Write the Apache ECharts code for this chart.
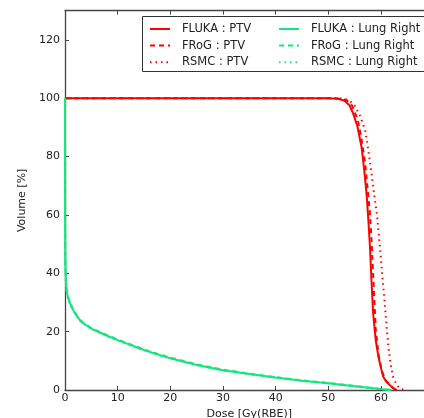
<!DOCTYPE html>
<html><head><meta charset="utf-8">
<script src="https://cdn.jsdelivr.net/npm/echarts@6/dist/echarts.min.js"></script>
<style>html,body{margin:0;padding:0;background:#fff}#c{width:424px;height:418px}</style>
</head><body><div id="c"></div>
<script>
var xTicks = [0, 10, 20, 30, 40, 50, 60, 70];
var yTicks = [0, 20, 40, 60, 80, 100, 120];
var seriesNames = ['FLUKA : PTV', 'FRoG : PTV', 'RSMC : PTV', 'FLUKA : Lung Right', 'FRoG : Lung Right', 'RSMC : Lung Right'];

var flukaPTV = [[0,100],[50,100],[51,99.9],[52,99.7],[53,99.2],[54,97.6],[54.7,94.8],[55.5,90.5],[56.3,83.3],[56.8,75.5],[57.3,66.2],[57.6,58],[57.9,49],[58.2,37],[58.5,26.3],[59,17],[59.5,11.4],[60,7.5],[60.4,4.6],[61,2.8],[61.7,1.6],[62.3,0.7],[63,0]];
var frogPTV = [[0,100],[51,100],[52.5,99.8],[53.5,99.3],[54.5,97.5],[55.6,92.5],[56.3,86],[57,77.6],[57.5,68],[57.9,60.5],[58.2,51],[58.4,43.4],[58.7,32],[59,20.5],[59.5,12.5],[60.1,6.8],[60.8,3.5],[61.7,1.7],[62.3,0.6],[62.8,0]];
var rsmcPTV = [[0,100],[51.5,100],[53,99.8],[54,99.2],[55,97.5],[56,94],[57,89],[57.6,82],[58.2,74.2],[58.7,67],[59.2,60.5],[59.8,49],[60.2,40],[60.6,32],[61,23],[61.4,14.8],[61.8,9],[62.3,4.6],[63,1.5],[63.9,0.3],[64.5,0]];
var flukaLung = [[0,100],[0.02,60],[0.05,45],[0.15,38],[0.3,34],[0.6,31.5],[1,29.5],[1.5,27.5],[2.2,25.5],[3,23.5],[4,22.2],[5,21],[6.5,19.8],[8,18.6],[10,17.1],[12.5,15.4],[15,13.7],[17.5,12.2],[20,10.9],[25,8.6],[30,6.8],[35,5.5],[40,4.3],[45,3.2],[50,2.3],[55,1.3],[58,0.7],[60,0.3],[62,0]];
var frogLung = [[0,100],[0.02,60],[0.05,45],[0.15,38.5],[0.3,34.5],[0.6,31.8],[1,29.8],[1.5,27.8],[2.2,25.7],[3,23.8],[4,22.4],[5,21.2],[6.5,20],[8,18.8],[10,17.3],[12.5,15.6],[15,13.9],[17.5,12.4],[20,11.1],[25,8.8],[30,7],[35,5.6],[40,4.4],[45,3.3],[50,2.4],[55,1.4],[58,0.8],[60,0.3],[62,0]];
var rsmcLung = [[0,100],[0.02,60],[0.05,44],[0.15,37.5],[0.3,33.8],[0.6,31.3],[1,29.3],[1.5,27.4],[2.2,25.4],[3,23.4],[4,22.1],[5,20.9],[6.5,19.7],[8,18.5],[10,17],[12.5,15.3],[15,13.6],[17.5,12.1],[20,10.8],[25,8.5],[30,6.7],[35,5.4],[40,4.2],[45,3.1],[50,2.2],[55,1.2],[58,0.6],[60,0.2],[62,0]];

var RED = '#ff0000', GREEN = '#14e67c';
var AX = '#444';
function mk(name, data, color, type) {
  return {name: name, type: 'line', data: data, symbol: 'none', showSymbol: false,
    lineStyle: {color: color, width: 2, type: type}, itemStyle: {color: color},
    xAxisIndex: 0, yAxisIndex: 0, animation: false, z: 2};
}
var dashed = [5, 4], dotted = [1.5, 4];
var chart = echarts.init(document.getElementById('c'), null, {renderer: 'canvas'});
var legendCommon = {orient: 'vertical', top: 18, itemWidth: 20, itemHeight: 12, itemGap: 4.6, z: 5,
  itemStyle: {color: 'rgba(0,0,0,0)', borderWidth: 0, opacity: 0},
  textStyle: {fontFamily: 'DejaVu Sans', fontSize: 11.5, color: '#222', padding: [0, 0, 0, 7]}};
chart.setOption({
  animation: false,
  grid: {left: 65, top: 10.7, right: -9.7, bottom: 28, outerBoundsMode: 'none', containLabel: false},
  legend: [
    Object.assign({}, legendCommon, {left: 144, data: seriesNames.slice(0, 3)}),
    Object.assign({}, legendCommon, {left: 273, data: seriesNames.slice(3)})
  ],
  graphic: [{type: 'rect', shape: {x: 142.5, y: 16.5, width: 300, height: 55},
    style: {fill: '#fff', stroke: '#333', lineWidth: 1}, z: 3}],
  xAxis: [{
    type: 'value', min: xTicks[0], max: xTicks[xTicks.length - 1], interval: 10,
    name: 'Dose [Gy(RBE)]', nameLocation: 'middle', nameGap: 11,
    nameTextStyle: {fontFamily: 'DejaVu Sans', fontSize: 11, color: '#222'},
    axisLine: {onZero: false, lineStyle: {color: AX, width: 1.3}},
    axisTick: {inside: true, length: 4, lineStyle: {color: AX}},
    axisLabel: {fontFamily: 'DejaVu Sans', fontSize: 11, color: '#222', margin: 3},
    splitLine: {show: false}
  }, {
    type: 'value', position: 'top', min: xTicks[0], max: xTicks[xTicks.length - 1], interval: 10,
    axisLine: {onZero: false, lineStyle: {color: AX, width: 1.3}},
    axisTick: {inside: true, length: 4, lineStyle: {color: AX}},
    axisLabel: {show: false}, splitLine: {show: false}
  }],
  yAxis: [{
    type: 'value', min: yTicks[0], max: 130, interval: 20,
    name: 'Volume [%]', nameLocation: 'middle', nameGap: 26, nameRotate: 90,
    nameTextStyle: {fontFamily: 'DejaVu Sans', fontSize: 11, color: '#222'},
    axisLine: {show: true, onZero: false, lineStyle: {color: AX, width: 1.3}},
    axisTick: {show: true, inside: true, length: 4, lineStyle: {color: AX}},
    axisLabel: {fontFamily: 'DejaVu Sans', fontSize: 11, color: '#222', margin: 5, showMaxLabel: false},
    splitLine: {show: false}
  }],
  series: [
    mk(seriesNames[0], flukaPTV, RED, 'solid'),
    mk(seriesNames[1], frogPTV, RED, dashed),
    mk(seriesNames[2], rsmcPTV, RED, dotted),
    mk(seriesNames[3], flukaLung, GREEN, 'solid'),
    mk(seriesNames[4], frogLung, GREEN, dashed),
    mk(seriesNames[5], rsmcLung, GREEN, dotted)
  ]
});
</script></body></html>
